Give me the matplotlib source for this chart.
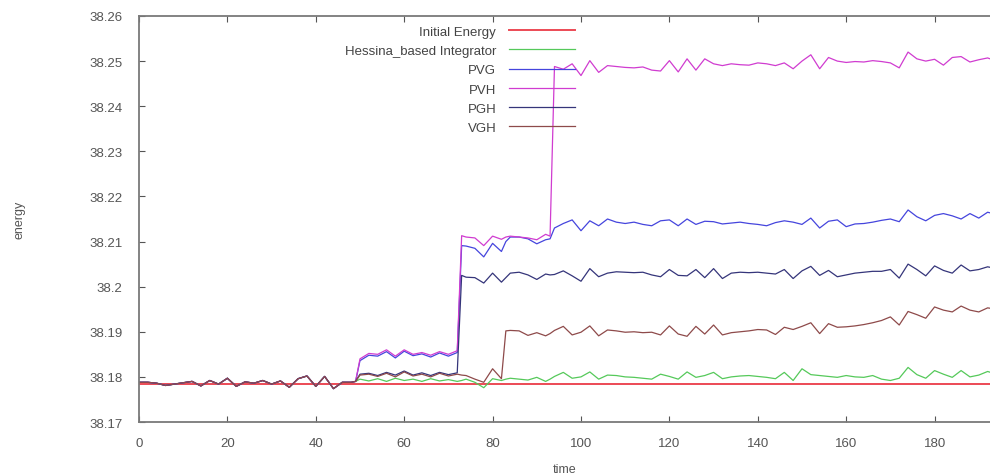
"""Energy drift of the splitting integrators against the Hessian-based one."""
import matplotlib
matplotlib.use("Agg")
import matplotlib.pyplot as plt
from matplotlib.ticker import FuncFormatter

plt.rcParams.update({
    "font.family": ["Liberation Sans", "DejaVu Sans"],
    "font.size": 10,
})

time = [0, 2, 4, 6, 8, 10, 12, 14, 16, 18, 20, 22, 24, 26, 28, 30, 32, 34,
        36, 38, 40, 42, 44, 46, 48, 49,
        50, 52, 54, 56, 58, 60, 62, 64, 66, 68, 70, 72,
        73, 74, 76, 78, 80, 82, 83, 84, 86, 88, 90, 92, 93,
        94, 96, 98, 100, 102, 104, 106, 108, 110, 112,
        114, 116, 118, 120, 122, 124, 126, 128, 130, 132,
        134, 136, 138, 140, 142, 144, 146, 148, 150, 152,
        154, 156, 158, 160, 162, 164, 166, 168, 170, 172,
        174, 176, 178, 180, 182, 184, 186, 188, 190, 192,
        194]

# all integrators coincide up to t = 49
early = [38.1788, 38.1788, 38.1786, 38.1781, 38.1784, 38.1787, 38.1790,
         38.1780, 38.1792, 38.1784, 38.1797, 38.1779, 38.1789, 38.1786,
         38.1792, 38.1784, 38.1791, 38.1777, 38.1796, 38.1802, 38.1779,
         38.1801, 38.1774, 38.1788, 38.1788, 38.1790]

initial_t = [0, 194]
initial_energy = [38.1784, 38.1784]

hessian = early + [
    38.1795, 38.1791, 38.1796, 38.1790, 38.1797, 38.1792, 38.1795, 38.1790, 38.1796, 38.1791, 38.1794, 38.1790,
    38.1792, 38.1795, 38.1788, 38.1776, 38.1796, 38.1792, 38.1795, 38.1797, 38.1795, 38.1793, 38.1799, 38.1790, 38.1795,
    38.1801, 38.1810, 38.1797, 38.1800, 38.1811, 38.1795, 38.1804, 38.1803, 38.1800, 38.1799,
    38.1797, 38.1795, 38.1806, 38.1801, 38.1795, 38.1811, 38.1799, 38.1803, 38.1810, 38.1796,
    38.1800, 38.1802, 38.1803, 38.1801, 38.1799, 38.1796, 38.1810, 38.1792, 38.1818, 38.1805,
    38.1803, 38.1801, 38.1799, 38.1803, 38.1800, 38.1799, 38.1803, 38.1795, 38.1792, 38.1797,
    38.1821, 38.1805, 38.1797, 38.1814, 38.1806, 38.1799, 38.1814, 38.1800, 38.1804, 38.1812,
    38.1806]

pvg = early + [
    38.1836, 38.1848, 38.1846, 38.1856, 38.1842, 38.1857, 38.1847, 38.1851, 38.1844, 38.1853, 38.1846, 38.1854,
    38.2091, 38.2090, 38.2085, 38.2066, 38.2096, 38.2078, 38.2100, 38.2110, 38.2110, 38.2106, 38.2095, 38.2104, 38.2106,
    38.2130, 38.2140, 38.2148, 38.2124, 38.2146, 38.2135, 38.2150, 38.2143, 38.2140, 38.2143,
    38.2138, 38.2135, 38.2146, 38.2148, 38.2135, 38.2150, 38.2138, 38.2145, 38.2144, 38.2139,
    38.2141, 38.2143, 38.2140, 38.2138, 38.2135, 38.2142, 38.2146, 38.2143, 38.2138, 38.2152,
    38.2130, 38.2145, 38.2148, 38.2133, 38.2139, 38.2140, 38.2143, 38.2147, 38.2150, 38.2144,
    38.2170, 38.2155, 38.2146, 38.2158, 38.2162, 38.2157, 38.2150, 38.2162, 38.2152, 38.2165,
    38.2160]

pvh = early + [
    38.1840, 38.1852, 38.1850, 38.1860, 38.1846, 38.1860, 38.1850, 38.1854, 38.1848, 38.1856, 38.1850, 38.1858,
    38.2113, 38.2110, 38.2108, 38.2091, 38.2112, 38.2105, 38.2110, 38.2112, 38.2110, 38.2108, 38.2104, 38.2116, 38.2112,
    38.2488, 38.2482, 38.2494, 38.2468, 38.2501, 38.2475, 38.2490, 38.2488, 38.2486, 38.2485,
    38.2487, 38.2480, 38.2478, 38.2501, 38.2476, 38.2505, 38.2480, 38.2505, 38.2494, 38.2490,
    38.2494, 38.2492, 38.2491, 38.2496, 38.2494, 38.2490, 38.2496, 38.2483, 38.2500, 38.2514,
    38.2483, 38.2508, 38.2500, 38.2497, 38.2499, 38.2498, 38.2501, 38.2499, 38.2496, 38.2485,
    38.2520, 38.2505, 38.2500, 38.2504, 38.2491, 38.2508, 38.2510, 38.2498, 38.2503, 38.2507,
    38.2500]

pgh = early + [
    38.1806, 38.1808, 38.1803, 38.1810, 38.1804, 38.1813, 38.1804, 38.1809, 38.1803, 38.1810, 38.1805, 38.1809,
    38.2025, 38.2021, 38.2020, 38.2008, 38.2030, 38.2010, 38.2020, 38.2030, 38.2032, 38.2026, 38.2016, 38.2028, 38.2026,
    38.2027, 38.2035, 38.2024, 38.2012, 38.2040, 38.2022, 38.2030, 38.2033, 38.2032, 38.2031,
    38.2032, 38.2026, 38.2022, 38.2038, 38.2025, 38.2024, 38.2038, 38.2020, 38.2040, 38.2018,
    38.2030, 38.2032, 38.2031, 38.2032, 38.2030, 38.2028, 38.2038, 38.2018, 38.2035, 38.2045,
    38.2025, 38.2036, 38.2022, 38.2026, 38.2030, 38.2032, 38.2034, 38.2034, 38.2038, 38.2019,
    38.2050, 38.2038, 38.2024, 38.2046, 38.2036, 38.2030, 38.2048, 38.2035, 38.2038, 38.2044,
    38.2040]

vgh = early + [
    38.1804, 38.1806, 38.1801, 38.1808, 38.1800, 38.1811, 38.1802, 38.1806, 38.1800, 38.1808, 38.1802, 38.1806,
    38.1804, 38.1803, 38.1795, 38.1788, 38.1818, 38.1796, 38.1902, 38.1903, 38.1902, 38.1892, 38.1898, 38.1891, 38.1896,
    38.1903, 38.1912, 38.1893, 38.1899, 38.1913, 38.1891, 38.1904, 38.1902, 38.1899, 38.1900,
    38.1898, 38.1899, 38.1893, 38.1913, 38.1895, 38.1890, 38.1912, 38.1895, 38.1915, 38.1893,
    38.1898, 38.1900, 38.1902, 38.1905, 38.1904, 38.1894, 38.1910, 38.1905, 38.1912, 38.1920,
    38.1896, 38.1918, 38.1910, 38.1911, 38.1913, 38.1916, 38.1920, 38.1925, 38.1933, 38.1915,
    38.1945, 38.1938, 38.1930, 38.1955, 38.1948, 38.1944, 38.1957, 38.1948, 38.1944, 38.1953,
    38.1950]

y_ticks = [38.17, 38.18, 38.19, 38.20, 38.21, 38.22, 38.23, 38.24, 38.25, 38.26]
x_ticks = [0, 20, 40, 60, 80, 100, 120, 140, 160, 180]

fig = plt.figure(figsize=(9.9, 4.77), dpi=100)
# right border falls just past the edge of the canvas
ax = fig.add_axes([0.1404, 0.1132, 0.8697, 0.8512])

ax.plot(initial_t, initial_energy, color="#ec4a55", lw=1.4, label="Initial Energy")
ax.plot(time, hessian, color="#55c95a", lw=0.9, label="Hessina_based Integrator")
ax.plot(time, pvg, color="#4545dd", lw=0.9, label="PVG")
ax.plot(time, pvh, color="#d03cd0", lw=0.9, label="PVH")
ax.plot(time, pgh, color="#35357a", lw=0.9, label="PGH")
ax.plot(time, vgh, color="#8e4a4a", lw=0.9, label="VGH")

ax.set_xlim(0, 194.8)
ax.set_ylim(38.17, 38.26)
ax.set_xticks(x_ticks)
ax.set_yticks(y_ticks)
ax.yaxis.set_major_formatter(FuncFormatter(lambda v, _: f"{round(v, 4):g}"))
ax.tick_params(direction="in", length=4, width=0.8, color="#555555",
               labelcolor="#555555", labelsize=9.5, top=True, right=True)
ax.tick_params(axis="y", pad=12)
ax.tick_params(axis="x", pad=11)
for sp in ax.spines.values():
    sp.set_color("#7a7a7a")
    sp.set_linewidth(1.3)

fig.text(20 / 990, 1 - 220 / 477, "energy", rotation=90, ha="center",
         va="center", fontsize=9, color="#555555")
fig.text(565 / 990, 1 - 470 / 477, "time", ha="center", va="center",
         fontsize=9, color="#555555")

fig.legend(loc="upper right", bbox_to_anchor=(582 / 990, 1 - 20 / 477),
           frameon=False, markerfirst=False, fontsize=9.5, handlelength=5.0,
           handletextpad=1.0, labelspacing=0.53, borderpad=0,
           labelcolor="#444444")

fig.savefig("out.png", dpi=100)
